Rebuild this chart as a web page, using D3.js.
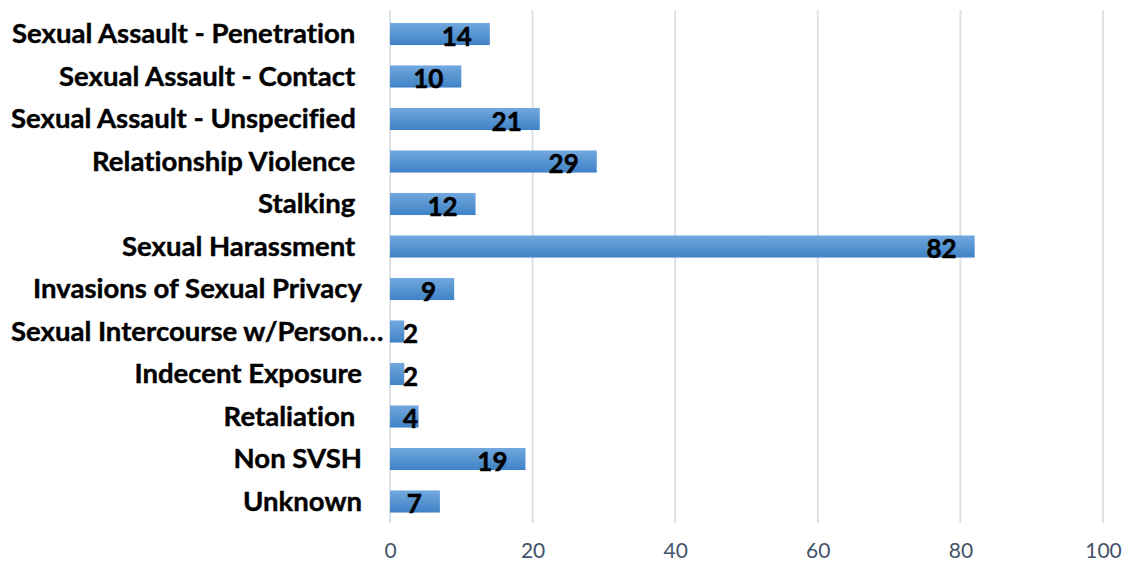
<!DOCTYPE html>
<html>
<head>
<meta charset="utf-8">
<script src="https://cdn.jsdelivr.net/npm/d3@7"></script>
<style>
  html, body { margin: 0; padding: 0; background: #fff; }
  svg { display: block; }
  text { font-variant-ligatures: none; font-feature-settings: "liga" 0, "clig" 0; }
  .cat { white-space: pre; }
</style>
</head>
<body>
<svg id="chart" width="1122" height="563"></svg>
<script>
const categories = [
  "Sexual Assault - Penetration ",
  "Sexual Assault - Contact ",
  "Sexual Assault - Unspecified ",
  "Relationship Violence ",
  "Stalking ",
  "Sexual Harassment ",
  "Invasions of Sexual Privacy",
  "Sexual Intercourse w/Person…",
  "Indecent Exposure",
  "Retaliation ",
  "Non SVSH",
  "Unknown"
];
const values = [14, 10, 21, 29, 12, 82, 9, 2, 2, 4, 19, 7];
const xTicks = [0, 20, 40, 60, 80, 100];

const svg = d3.select("#chart");
const margin = { left: 390, right: 19, top: 12.75, bottom: 40.25 };
const W = 1122, H = 563;

const x = d3.scaleLinear().domain([0, 100]).range([margin.left, W - margin.right]);
const y = d3.scaleBand().domain(categories)
  .range([margin.top, H - margin.bottom])
  .paddingInner(0.48).paddingOuter(0.24);

const defs = svg.append("defs");
const grad = defs.append("linearGradient").attr("id", "barGrad")
  .attr("x1", 0).attr("y1", 0).attr("x2", 0).attr("y2", 1);
grad.append("stop").attr("offset", "0%").attr("stop-color", "#72a8de");
grad.append("stop").attr("offset", "100%").attr("stop-color", "#3f82c6");

// gridlines
const gridTop = 10, gridBottom = 523;
svg.append("g").selectAll("line").data(xTicks).join("line")
  .attr("x1", d => x(d)).attr("x2", d => x(d))
  .attr("y1", gridTop).attr("y2", gridBottom)
  .attr("stroke", "#dde1e8").attr("stroke-width", 2);

// x axis tick labels
const xAxis = d3.axisBottom(x).tickValues(xTicks).tickSize(0).tickPadding(0);
const gx = svg.append("g").attr("transform", `translate(0, 543)`).call(xAxis);
gx.select(".domain").remove();
gx.selectAll("text")
  .attr("dy", "0.71em")
  .attr("font-family", "Lato, 'Open Sans', sans-serif")
  .attr("font-size", 21)
  .attr("fill", "#44546a");

// bars
svg.append("g").selectAll("rect").data(values).join("rect")
  .attr("x", x(0))
  .attr("y", (d, i) => y(categories[i]))
  .attr("width", d => x(d) - x(0))
  .attr("height", y.bandwidth())
  .attr("fill", "url(#barGrad)");

// category labels
const labelFont = "Lato, 'Open Sans', sans-serif";
const catG = svg.append("g");
const cats = catG.selectAll("text").data(categories).join("text")
  .attr("class", "cat")
  .attr("x", 362)
  .attr("y", d => y(d) + y.bandwidth() / 2)
  .attr("dy", "0.36em")
  .attr("text-anchor", "end")
  .attr("font-family", labelFont)
  .attr("font-weight", "bold")
  .attr("font-size", 26)
  .attr("fill", "#000")
  .attr("stroke", "#000")
  .attr("stroke-width", 0.4)
  .text(d => d);

// scale horizontally to match reference width
const refNode = cats.filter((d, i) => i === 0).node();
const targetW = 343 + 7;
const natW = refNode.getComputedTextLength();
const factor = targetW / natW;
cats.each(function () {
  const w = this.getComputedTextLength();
  const sw = w * factor;
  d3.select(this).attr("textLength", sw).attr("lengthAdjust", "spacingAndGlyphs");
  const start = 362 - sw;
  if (start < 11) {
    d3.select(this).attr("text-anchor", "start").attr("x", 11);
  }
});

// value labels
svg.append("g").selectAll("text").data(values).join("text")
  .attr("x", d => Math.max(x(d) - 18, x(0) + 28))
  .attr("y", (d, i) => y(categories[i]) + y.bandwidth() / 2)
  .attr("dy", "0.45em")
  .attr("text-anchor", "end")
  .attr("font-family", labelFont)
  .attr("font-weight", "bold")
  .attr("font-size", 26)
  .attr("fill", "#000")
  .attr("stroke", "#000")
  .attr("stroke-width", 0.5)
  .text(d => d);
</script>
</body>
</html>
